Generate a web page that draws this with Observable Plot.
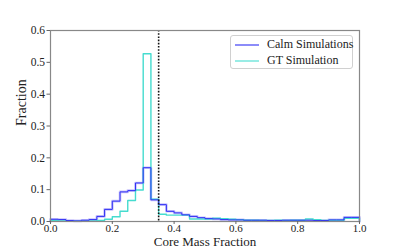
<!DOCTYPE html>
<html>
<head>
<meta charset="utf-8">
<script src="https://cdn.jsdelivr.net/npm/d3@7"></script>
<script src="https://cdn.jsdelivr.net/npm/@observablehq/plot@0.6"></script>
<style>
  html, body { margin: 0; padding: 0; background: #fff; }
  #wrap { position: relative; width: 399px; height: 249px; font-family: "Liberation Serif", "DejaVu Serif", serif; }
  #wrap svg text { font-family: "Liberation Serif", "DejaVu Serif", serif; }
  #legend { position: absolute; left: 230px; top: 35px; width: 121px; height: 32px; border: 1px solid #d0d0d0; border-radius: 3px; background: rgba(255,255,255,0.85); font-size: 12px; color: #222; }
  #legend .row { position: absolute; left: 4px; height: 15px; display: flex; align-items: center; white-space: nowrap; }
  #legend svg { margin-right: 8px; }
</style>
</head>
<body>
<div id="wrap"></div>
<script>
const binStarts = [0, 0.025, 0.05, 0.075, 0.1, 0.125, 0.15, 0.175, 0.2, 0.225,
  0.25, 0.275, 0.3, 0.325, 0.35, 0.375, 0.4, 0.425, 0.45, 0.475,
  0.5, 0.525, 0.55, 0.575, 0.6, 0.625, 0.65, 0.675, 0.7, 0.725,
  0.75, 0.775, 0.8, 0.825, 0.85, 0.875, 0.9, 0.925, 0.95, 0.975];
const calmValues = [0.007, 0.006, 0.003, 0.002, 0.004, 0.006, 0.016, 0.038, 0.064, 0.093,
  0.097, 0.121, 0.169, 0.068, 0.053, 0.032, 0.027, 0.021, 0.016, 0.012,
  0.009, 0.008, 0.006, 0.005, 0.005, 0.004, 0.004, 0.004, 0.003, 0.003,
  0.004, 0.004, 0.004, 0.004, 0.003, 0.003, 0.005, 0.005, 0.013, 0.013];
const gtValues = [0.003, 0.002, 0.001, 0.001, 0.001, 0.002, 0.003, 0.007, 0.015, 0.032,
  0.066, 0.099, 0.527, 0.070, 0.023, 0.020, 0.020, 0.020, 0.008, 0.008,
  0.008, 0.010, 0.009, 0.007, 0.006, 0.004, 0.004, 0.003, 0.003, 0.004,
  0.003, 0.004, 0.004, 0.008, 0.006, 0.003, 0.004, 0.004, 0.010, 0.010];
const binEnd = 1.0;
const coreMarker = 0.35;
const seriesNames = ["Calm Simulations", "GT Simulation"];
const xTicks = [0, 0.2, 0.4, 0.6, 0.8, 1.0];
const yTicks = [0, 0.1, 0.2, 0.3, 0.4, 0.5, 0.6];

function stepPoints(vals) {
  const pts = [{x: binStarts[0], y: 0}];
  binStarts.forEach((b, i) => pts.push({x: b, y: vals[i]}));
  pts.push({x: binEnd, y: vals[vals.length - 1]});
  pts.push({x: binEnd, y: 0});
  return pts;
}
const calm = stepPoints(calmValues);
const gt = stepPoints(gtValues);

const blue = "#2f2ff5";
const halo = "#8f86f7";
const cyan = "#45dccf";
const serif = "'Liberation Serif', 'DejaVu Serif', serif";

const chart = Plot.plot({
  width: 399,
  height: 249,
  marginLeft: 50,
  marginRight: 40,
  marginTop: 30,
  marginBottom: 28,
  style: {fontFamily: serif, fontSize: "11px", color: "#222", background: "white"},
  x: {domain: [0, 1], label: null},
  y: {domain: [0, 0.6], label: null},
  marks: [
    Plot.line(calm, {x: "x", y: "y", curve: "step-after", stroke: halo, strokeWidth: 2.6, strokeOpacity: 0.5}),
    Plot.line(gt, {x: "x", y: "y", curve: "step-after", stroke: cyan, strokeWidth: 1.4}),
    Plot.line(calm, {x: "x", y: "y", curve: "step-after", stroke: blue, strokeWidth: 1}),
    Plot.ruleX([coreMarker], {stroke: "#111", strokeWidth: 1.6, strokeDasharray: "1.6,1.6"}),
    Plot.frame({stroke: "#888", strokeWidth: 1.2}),
    Plot.axisX({ticks: xTicks, tickFormat: d3.format(".1f"), tickSize: 3, tickPadding: 0, label: null, stroke: "#666", fontSize: 11, fontFamily: serif}),
    Plot.axisY({ticks: yTicks, tickFormat: d3.format(".1f"), tickSize: 3.5, tickPadding: 2, label: null, stroke: "#666", fontSize: 11.5, fontFamily: serif}),
    Plot.text(["Core Mass Fraction"], {frameAnchor: "bottom", dy: 24, fontSize: 13, fill: "#222", fontFamily: serif}),
    Plot.text(["Fraction"], {frameAnchor: "left", dx: -29, rotate: -90, fontSize: 14, fill: "#222", fontFamily: serif})
  ]
});
const wrap = document.getElementById("wrap");
wrap.appendChild(chart);

const legend = document.createElement("div");
legend.id = "legend";
const colors = [blue, cyan];
seriesNames.forEach((name, i) => {
  const row = document.createElement("div");
  row.className = "row";
  row.style.top = (1 + i * 16) + "px";
  const ns = "http://www.w3.org/2000/svg";
  const sv = document.createElementNS(ns, "svg");
  sv.setAttribute("width", "24");
  sv.setAttribute("height", "6");
  const ln = document.createElementNS(ns, "line");
  ln.setAttribute("x1", "0"); ln.setAttribute("x2", "24");
  ln.setAttribute("y1", "3"); ln.setAttribute("y2", "3");
  ln.setAttribute("stroke", colors[i]);
  ln.setAttribute("stroke-width", "1.1");
  sv.appendChild(ln);
  row.appendChild(sv);
  const t = document.createElement("span");
  t.textContent = name;
  row.appendChild(t);
  legend.appendChild(row);
});
wrap.appendChild(legend);
</script>
</body>
</html>
